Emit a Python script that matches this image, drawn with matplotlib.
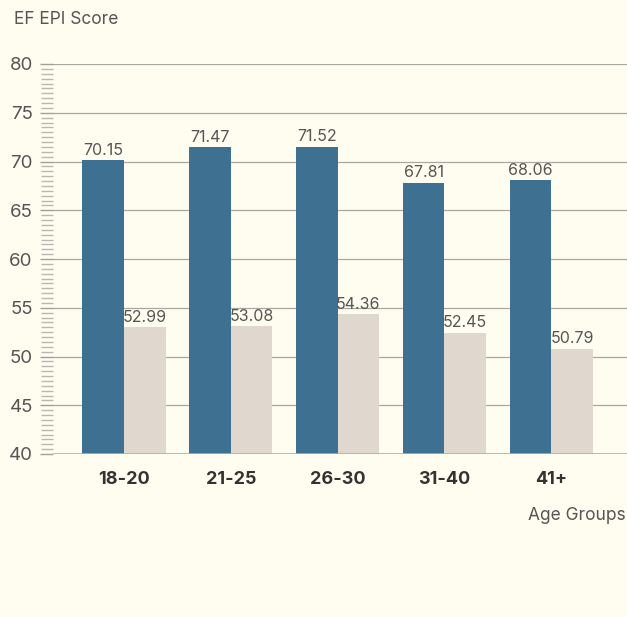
import numpy as np
from matplotlib import pyplot as plt
from matplotlib.ticker import MultipleLocator

groups = ["18-20", "21-25", "26-30", "31-40", "41+"]
blue_vals = [70.15, 71.47, 71.52, 67.81, 68.06]
beige_vals = [52.99, 53.08, 54.36, 52.45, 50.79]

bg = "#fffdf0"
blue = "#3e7091"
beige = "#e0d8cf"
text_col = "#555555"

plt.rcParams['font.family'] = ['Inter', 'DejaVu Sans']

fig = plt.figure(figsize=(6.27, 6.17), dpi=100, facecolor=bg)
ax = fig.add_axes([53 / 627, (617 - 454) / 617, 1 - 53 / 627, (454 - 64) / 617])
ax.set_facecolor(bg)

x = np.arange(len(groups))
w = 0.39
ax.bar(x - w / 2, np.array(blue_vals) - 40, w, bottom=40, color=blue, zorder=2)
ax.bar(x + w / 2, np.array(beige_vals) - 40, w, bottom=40, color=beige, zorder=2)

for xi, v in zip(x, blue_vals):
    ax.text(xi - w / 2, v + 0.25, f"{v:.2f}", ha="center", va="bottom", fontsize=11.5, color=text_col, zorder=3)
for xi, v in zip(x, beige_vals):
    ax.text(xi + w / 2, v + 0.25, f"{v:.2f}", ha="center", va="bottom", fontsize=11.5, color=text_col, zorder=3)

ax.set_ylim(40, 80)
ax.set_xlim(-0.665, 4.71)
ax.yaxis.set_major_locator(MultipleLocator(5))
ax.yaxis.set_minor_locator(MultipleLocator(0.5))
ax.grid(axis="y", which="major", color="#a8a8a0", linewidth=0.9, zorder=1)
ax.tick_params(axis="y", which="major", length=9.5, width=1.0, color="#a0a098", labelsize=13.5, labelcolor=text_col, pad=5)
ax.tick_params(axis="y", which="minor", length=9, width=1.0, color="#b8b8b0")
ax.tick_params(axis="x", length=0, pad=12)
ax.set_xticks(x)
ax.set_xticklabels(groups, fontsize=13, fontweight="bold", color="#333333")
for s in ax.spines.values():
    s.set_visible(False)
ax.axhline(40, color="#b0b0a8", linewidth=1.2, zorder=3)

fig.text(14 / 627, 1 - 20 / 617, "EF EPI Score", ha="left", va="center", fontsize=12.5, color=text_col)
fig.text(626 / 627, 1 - 515 / 617, "Age Groups", ha="right", va="center", fontsize=12.5, color=text_col)

fig.savefig("out.png", dpi=100, facecolor=bg)
